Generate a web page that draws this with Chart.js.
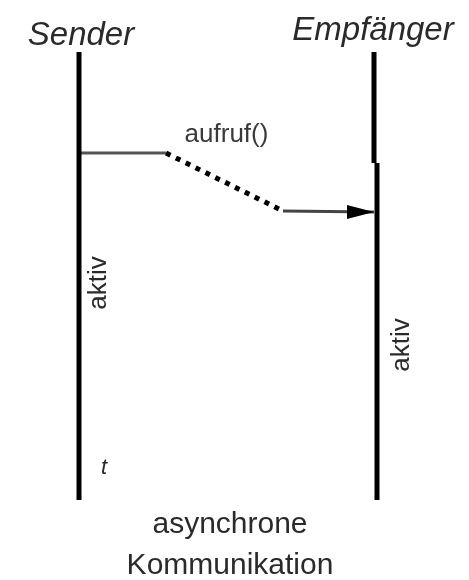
<!DOCTYPE html>
<html>
<head>
<meta charset="utf-8">
<script src="https://cdn.jsdelivr.net/npm/chart.js@4/dist/chart.umd.min.js"></script>
<style>
  html, body { margin: 0; padding: 0; background: #fff; }
  #wrap { width: 469px; height: 580px; }
</style>
</head>
<body>
<div id="wrap"><canvas id="seq" width="469" height="580"></canvas></div>
<script>
// Sequenzdiagramm: asynchrone Kommunikation

// Lebenslinien
const lifelines = ['Sender', 'Empfänger'];
const lifelineX = [79, 374];
const lifeStart = 52;
const lifeEnd = 500;
// Empfänger wird aktiv ab
const activeX = 377;
const activeStart = 163;

// Nachricht aufruf()
const messageLabel = 'aufruf()';
const msgX = [79, 166, 283, 374];
const msgY = [153, 153, 211, 212];

const activeLabel = 'aktiv';
const timeLabel = 't';
const caption = ['asynchrone', 'Kommunikation'];

// Pfeilspitze als Punkt-Stil (Spitze in der Mitte des Canvas)
const arrow = document.createElement('canvas');
arrow.width = 56;
arrow.height = 16;
const actx = arrow.getContext('2d');
actx.fillStyle = '#000';
actx.beginPath();
actx.moveTo(1, 1);
actx.lineTo(28, 8);
actx.lineTo(1, 15);
actx.closePath();
actx.fill();

const seg = (xs, ys) => xs.map((x, i) => ({ x: x, y: ys[i] }));

const textPlugin = {
  id: 'texte',
  afterDraw(chart) {
    const ctx = chart.ctx;
    const sx = chart.scales.x, sy = chart.scales.y;
    const px = v => sx.getPixelForValue(v);
    const py = v => sy.getPixelForValue(v);
    ctx.save();
    ctx.textAlign = 'center';
    ctx.textBaseline = 'alphabetic';

    // Namen der Lebenslinien
    ctx.fillStyle = '#2a2a2a';
    ctx.font = 'italic 33px "Liberation Sans", Arial, sans-serif';
    ctx.fillText(lifelines[0], px(lifelineX[0]) + 2, py(lifeStart) - 7);
    ctx.fillText(lifelines[1], px(lifelineX[1] - 1), py(lifeStart) - 12);

    // Nachricht
    ctx.fillStyle = '#3a3a3a';
    ctx.font = '26px "Liberation Sans", Arial, sans-serif';
    ctx.fillText(messageLabel, (px(msgX[0]) + px(msgX[3])) / 2, py(msgY[0]) - 11);

    // aktiv (senkrecht)
    ctx.font = '26px "Liberation Sans", Arial, sans-serif';
    ctx.fillStyle = '#2a2a2a';
    ctx.textBaseline = 'middle';
    [[px(lifelineX[0]) + 20, 283], [px(activeX) + 25, 345]].forEach(p => {
      ctx.save();
      ctx.translate(p[0], p[1]);
      ctx.rotate(-Math.PI / 2);
      ctx.fillText(activeLabel, 0, 0);
      ctx.restore();
    });

    // Zeitachse
    ctx.font = 'italic 22px "Liberation Sans", Arial, sans-serif';
    ctx.fillText(timeLabel, px(lifelineX[0]) + 25, 468);

    // Bildunterschrift
    ctx.textBaseline = 'alphabetic';
    ctx.fillStyle = '#2a2a2a';
    ctx.font = '30px "Liberation Sans", Arial, sans-serif';
    ctx.fillText(caption[0], 230, 533);
    ctx.fillText(caption[1], 230, 574);
    ctx.restore();
  }
};

new Chart(document.getElementById('seq'), {
  type: 'scatter',
  data: {
    datasets: [
      { data: seg([lifelineX[0], lifelineX[0]], [lifeStart, lifeEnd]), borderColor: '#000', borderWidth: 5 },
      { data: seg([lifelineX[1], lifelineX[1]], [lifeStart, activeStart]), borderColor: '#000', borderWidth: 5 },
      { data: seg([activeX, activeX], [activeStart, lifeEnd]), borderColor: '#000', borderWidth: 5 },
      { data: seg(msgX.slice(0, 2), msgY.slice(0, 2)), borderColor: '#555', borderWidth: 3 },
      { data: seg(msgX.slice(1, 3), msgY.slice(1, 3)), borderColor: '#000', borderWidth: 5, borderDash: [5, 6] },
      {
        data: seg(msgX.slice(2, 4), msgY.slice(2, 4)), borderColor: '#444', borderWidth: 3,
        pointStyle: ['circle', arrow], pointRadius: [0, 5]
      }
    ]
  },
  options: {
    responsive: false,
    animation: false,
    showLine: true,
    layout: { padding: 0, autoPadding: false },
    elements: {
      point: { radius: 0, hoverRadius: 0 },
      line: { borderCapStyle: 'butt' }
    },
    plugins: { legend: { display: false }, tooltip: { enabled: false } },
    scales: {
      x: { type: 'linear', min: 0, max: 469, display: false },
      y: { type: 'linear', min: 0, max: 580, reverse: true, display: false }
    }
  },
  plugins: [textPlugin]
});
</script>
</body>
</html>
